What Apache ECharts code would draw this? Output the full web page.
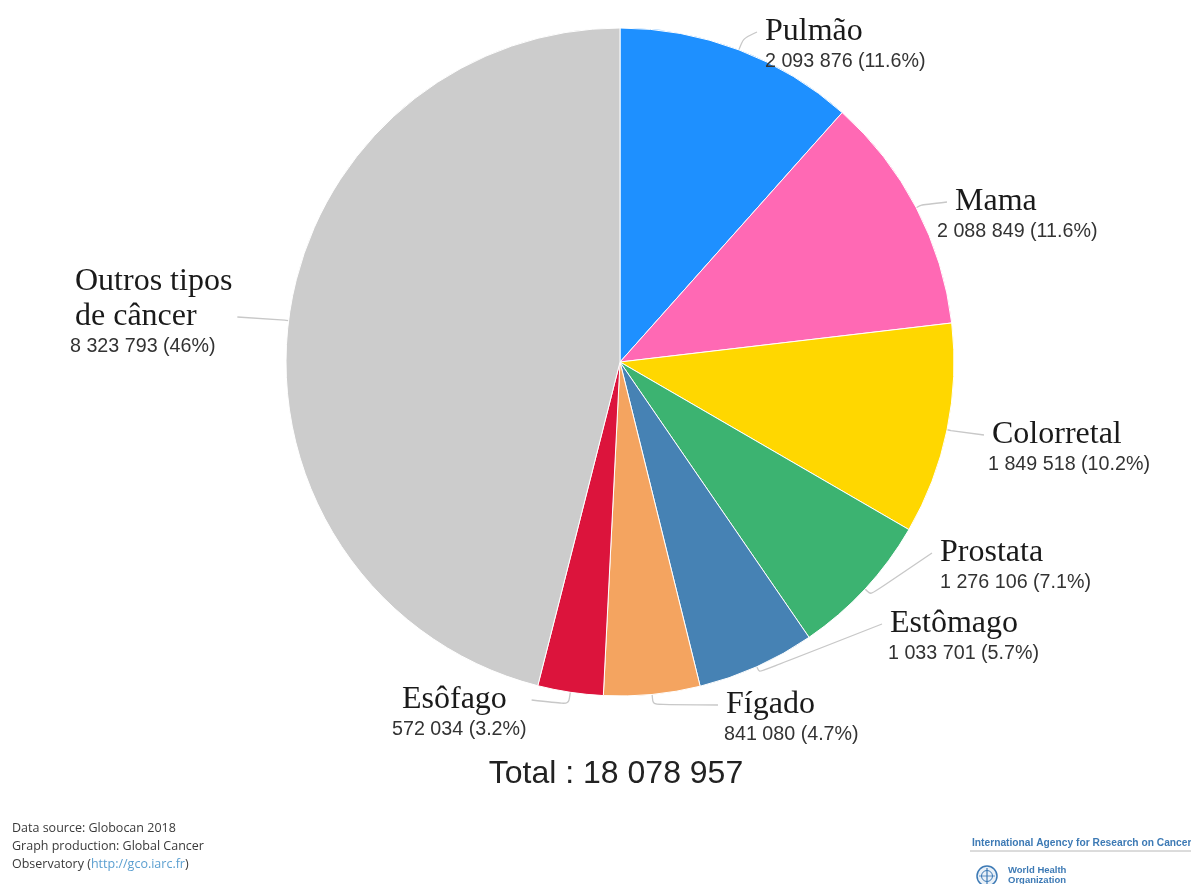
<!DOCTYPE html>
<html>
<head>
<meta charset="utf-8">
<title>Globocan 2018 – Novos casos de câncer</title>
<script src="https://cdn.jsdelivr.net/npm/echarts@6/dist/echarts.min.js"></script>
<style>
  html, body { margin: 0; padding: 0; background: #ffffff; }
  #chart { width: 1191px; height: 884px; }
</style>
</head>
<body>
<div id="chart"></div>
<script>
// Cancer types, clockwise from 12 o'clock
const categories = ['Pulmão', 'Mama', 'Colorretal', 'Prostata', 'Estômago', 'Fígado', 'Esôfago', 'Outros tipos\nde câncer'];
// New cases, both sexes, all ages
const cases = [2093876, 2088849, 1849518, 1276106, 1033701, 841080, 572034, 8323793];
const sliceColors = ['#1e90ff', '#ff69b4', '#ffd700', '#3cb371', '#4682b4', '#f4a460', '#dc143c', '#cccccc'];
const totalPrefix = 'Total : ';
const sourceLines = ['Data source: Globocan 2018', 'Graph production: Global Cancer'];
const sourceLinkPrefix = 'Observatory (';
const sourceLink = 'http://gco.iarc.fr';
const agencyName = 'International Agency for Research on Cancer';
const whoName = ['World Health', 'Organization'];

// Label placement: top-left corner of each label block, indent of the name row,
// and radial length of the first label-line segment
const labelSpots = [[765, 14], [937, 184], [988, 417], [940, 535], [888, 606], [724, 687], [392, 682], [70, 264]];
const nameIndent = [0, 18, 4, 0, 2, 2, 10, 5];
const lineLengths = [12, 6, 4, 8, 6, 10, 12, 4];

const pieCenter = [620, 362];
const total = cases.reduce((a, b) => a + b, 0);

function groupDigits(n) {
  return String(n).replace(/\B(?=(\d{3})+(?!\d))/g, ' ');
}
function pct(v) {
  return (v / total * 100).toFixed(1).replace(/\.0$/, '');
}

const NAME_LH = 35;

const rich = {
  value: { fontFamily: 'Liberation Sans', fontSize: 19.7, lineHeight: 26, color: '#333333', align: 'left' }
};
nameIndent.forEach(function (ind, i) {
  rich['n' + i] = {
    fontFamily: 'Liberation Serif', fontSize: 32, lineHeight: NAME_LH, color: '#1a1a1a',
    align: 'left', padding: [0, 0, 0, ind]
  };
});

const seriesData = categories.map(function (name, i) {
  return {
    name: name,
    value: cases[i],
    itemStyle: { color: sliceColors[i] },
    labelLine: { length: lineLengths[i], length2: 10 }
  };
});

const chart = echarts.init(document.getElementById('chart'), null, { renderer: 'canvas' });

chart.setOption({
  backgroundColor: '#ffffff',
  animation: false,
  series: [{
    type: 'pie',
    center: pieCenter,
    radius: 334,
    startAngle: 90,
    clockwise: true,
    avoidLabelOverlap: false,
    itemStyle: { borderColor: '#ffffff', borderWidth: 1 },
    emphasis: { disabled: true },
    label: {
      show: true,
      position: 'outside',
      formatter: function (p) {
        const i = p.dataIndex;
        return '{n' + i + '|' + p.name + '}\n{value|' + groupDigits(p.value) + ' (' + pct(p.value) + '%)}';
      },
      rich: rich
    },
    labelLine: {
      show: true,
      smooth: 0.25,
      lineStyle: { color: '#c8c8c8', width: 1.3 }
    },
    labelLayout: function (params) {
      const i = params.dataIndex;
      const spot = labelSpots[i];
      const pts = params.labelLinePoints;
      const rect = params.labelRect;
      const rows = categories[i].split('\n').length;
      const endY = spot[1] + rows * NAME_LH - 17;
      let endX;
      if (spot[0] < pieCenter[0]) {
        endX = spot[0] + rect.width + 5;
      } else {
        endX = spot[0] + nameIndent[i] - 8;
      }
      const out = {
        x: spot[0],
        y: spot[1],
        align: 'left',
        verticalAlign: 'top'
      };
      if (pts) {
        out.labelLinePoints = [pts[0], pts[1], [endX, endY]];
      }
      return out;
    },
    data: seriesData
  }],
  graphic: [
    {
      type: 'text',
      x: 616,
      y: 774,
      style: {
        text: totalPrefix + groupDigits(total),
        font: '32px "Liberation Sans", Arial, sans-serif',
        fill: '#222222',
        textAlign: 'center',
        textVerticalAlign: 'middle'
      }
    },
    {
      type: 'text',
      left: 12,
      top: 819,
      style: {
        text: sourceLines.join('\n') + '\n{a|' + sourceLinkPrefix + '}{b|' + sourceLink + '}{a|)}',
        font: '12.5px "Open Sans", sans-serif',
        lineHeight: 18,
        fill: '#3a3a3a',
        rich: {
          a: { font: '12.5px "Open Sans", sans-serif', fill: '#3a3a3a', lineHeight: 18 },
          b: { font: '12.5px "Open Sans", sans-serif', fill: '#5b9fd0', lineHeight: 18 }
        }
      }
    },
    {
      type: 'text',
      x: 972,
      y: 837,
      scaleX: 0.93,
      style: {
        text: agencyName,
        font: 'bold 11px "Liberation Sans", Arial, sans-serif',
        fill: '#3d7ab5'
      }
    },
    {
      type: 'line',
      shape: { x1: 970, y1: 851, x2: 1191, y2: 851 },
      style: { stroke: '#b8b8b8', lineWidth: 1 }
    },
    {
      type: 'group',
      x: 987,
      y: 876,
      children: [
        { type: 'circle', shape: { cx: 0, cy: 0, r: 10 }, style: { fill: '#eaf1f8', stroke: '#3d7ab5', lineWidth: 1.5 } },
        { type: 'circle', shape: { cx: 0, cy: 0, r: 5.5 }, style: { fill: 'none', stroke: '#3d7ab5', lineWidth: 1 } },
        { type: 'line', shape: { x1: 0, y1: -8, x2: 0, y2: 8 }, style: { stroke: '#3d7ab5', lineWidth: 1.2 } },
        { type: 'line', shape: { x1: -8, y1: 0, x2: 8, y2: 0 }, style: { stroke: '#3d7ab5', lineWidth: 0.8 } }
      ]
    },
    {
      type: 'text',
      x: 1008,
      y: 865,
      style: {
        text: whoName.join('\n'),
        font: 'bold 9.5px "Liberation Sans", Arial, sans-serif',
        lineHeight: 10,
        fill: '#3d7ab5'
      }
    }
  ]
});
</script>
</body>
</html>
